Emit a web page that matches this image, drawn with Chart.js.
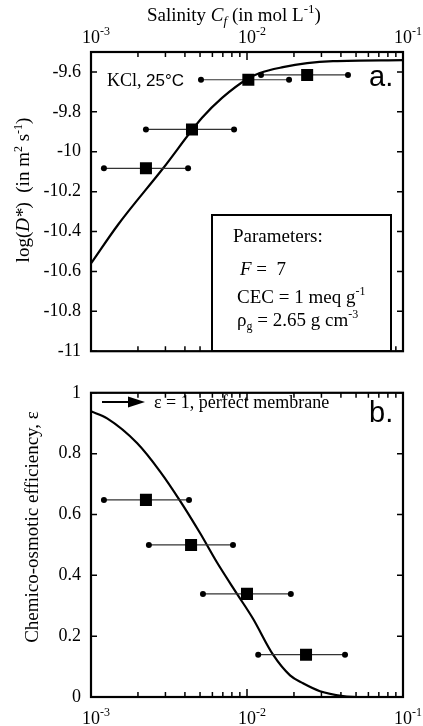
<!DOCTYPE html>
<html>
<head>
<meta charset="utf-8">
<script src="https://cdn.jsdelivr.net/npm/chart.js@4.4.1/dist/chart.umd.min.js"></script>
<style>
  html, body { margin: 0; padding: 0; background: #fff; }
  #wrap { position: relative; width: 423px; height: 726px; overflow: hidden; }
  canvas { position: absolute; left: 0; }
</style>
</head>
<body>
<div id="wrap">
  <canvas id="chartA" width="423" height="372" style="top:0"></canvas>
  <canvas id="chartB" width="423" height="354" style="top:372px"></canvas>
</div>
<script>
// ---- data ----
// panel a: log(D*) vs salinity
const curveA_c = [1.0e-3, 1.49e-3, 2.90e-3, 5.15e-3, 6.92e-3, 1.01e-2, 1.21e-2, 1.70e-2, 2.43e-2, 3.56e-2, 1.0e-1];
const curveA_v = [-10.56, -10.366, -10.083, -9.83, -9.73, -9.634, -9.605, -9.576, -9.556, -9.546, -9.541];
const measA_c = [2.25e-3, 4.44e-3, 1.02e-2, 2.43e-2];
const measA_v = [-10.083, -9.888, -9.639, -9.615];
const measA_lo = [1.21e-3, 2.25e-3, 5.07e-3, 1.23e-2];
const measA_hi = [4.19e-3, 8.26e-3, 1.86e-2, 4.44e-2];

// panel b: chemico-osmotic efficiency vs salinity
const curveB_c = [1.0e-3, 1.268e-3, 1.972e-3, 2.767e-3, 3.724e-3, 5.0e-3, 6.427e-3, 8.63e-3, 1.091e-2, 1.469e-2, 1.888e-2, 2.286e-2, 2.938e-2, 4.121e-2, 5.07e-2];
const curveB_v = [0.939, 0.916, 0.835, 0.742, 0.645, 0.539, 0.442, 0.339, 0.258, 0.139, 0.071, 0.045, 0.019, 0.003, 0.0];
const measB_c = [2.25e-3, 4.38e-3, 1.0e-2, 2.39e-2];
const measB_v = [0.648, 0.50, 0.339, 0.139];
const measB_lo = [1.21e-3, 2.35e-3, 5.22e-3, 1.18e-2];
const measB_hi = [4.25e-3, 8.13e-3, 1.91e-2, 4.25e-2];

// axes
const xMajor = [1e-3, 1e-2, 1e-1];
const xMajorExp = ['-3', '-2', '-1'];
const xMinorMult = [2, 3, 4, 5, 6, 7, 8, 9];
const yTicksA = [-11, -10.8, -10.6, -10.4, -10.2, -10, -9.8, -9.6];
const yTicksB = [0, 0.2, 0.4, 0.6, 0.8, 1];

const SERIF = '"Liberation Serif", "Times New Roman", serif';
const SANS = '"Liberation Sans", Arial, sans-serif';

function pts(xs, ys) { return xs.map((x, i) => ({ x: x, y: ys[i] })); }

function buildDatasets(cs, vs, mc, mv, lo, hi) {
    const ds = [{
        data: pts(cs, vs), showLine: true, borderColor: '#000', borderWidth: 2.2,
        pointRadius: 0, cubicInterpolationMode: 'monotone', order: 3
    }];
    mc.forEach((c, i) => {
        ds.push({
            data: [{ x: lo[i], y: mv[i] }, { x: hi[i], y: mv[i] }], showLine: true,
            borderColor: '#333', borderWidth: 1.2, pointRadius: 3,
            pointBackgroundColor: '#000', pointBorderWidth: 0, order: 2
        });
    });
    ds.push({
        data: pts(mc, mv), pointStyle: 'rect', pointRadius: 8.5,
        pointBackgroundColor: '#000', pointBorderWidth: 0, order: 1
    });
    return ds;
}

// draws pieces of text one after another, each with its own font and vertical shift
function rich(ctx, x, y, parts, align) {
    let w = 0;
    parts.forEach(p => { ctx.font = p[1]; w += ctx.measureText(p[0]).width; });
    let cx = align === 'center' ? x - w / 2 : x;
    parts.forEach(p => {
        ctx.font = p[1];
        ctx.fillText(p[0], cx, y + (p[2] || 0));
        cx += ctx.measureText(p[0]).width;
    });
}

function drawFrame(chart, yTicks) {
    const { ctx, chartArea: { left, right, top, bottom }, scales: { x, y } } = chart;
    ctx.save();
    ctx.strokeStyle = '#000';
    ctx.lineWidth = 1.5;
    ctx.beginPath();
    xMajor.forEach(m => {
        [m].concat(m < 0.1 ? xMinorMult.map(k => k * m) : []).forEach((v, j) => {
            const px = x.getPixelForValue(v);
            const len = j === 0 ? 8 : 5;
            ctx.moveTo(px, top); ctx.lineTo(px, top + len);
            ctx.moveTo(px, bottom); ctx.lineTo(px, bottom - len);
        });
    });
    yTicks.forEach(v => {
        const py = y.getPixelForValue(v);
        ctx.moveTo(left, py); ctx.lineTo(left + 6, py);
        ctx.moveTo(right, py); ctx.lineTo(right - 6, py);
    });
    ctx.stroke();
    ctx.lineWidth = 2.2;
    ctx.strokeRect(left, top, right - left, bottom - top);
    ctx.restore();
}

function drawXLabels(chart, baseline) {
    const { ctx, scales: { x } } = chart;
    ctx.save();
    ctx.fillStyle = '#000';
    ctx.textAlign = 'left';
    xMajor.forEach((v, i) => {
        const px = x.getPixelForValue(v);
        ctx.font = '18px ' + SERIF;
        const w = ctx.measureText('10').width;
        ctx.fillText('10', px - w / 2, baseline);
        ctx.font = '12px ' + SERIF;
        ctx.fillText(xMajorExp[i], px + w / 2, baseline - 8);
    });
    ctx.restore();
}

const panelA = {
    id: 'panelA',
    afterDraw(chart) {
        const ctx = chart.ctx;
        drawFrame(chart, yTicksA);
        drawXLabels(chart, 43);
        ctx.save();
        ctx.fillStyle = '#000';
        ctx.textAlign = 'left';
        // axis title on top
        rich(ctx, 147, 21, [
            ['Salinity ', '19px ' + SERIF], ['C', 'italic 19px ' + SERIF], ['f', 'italic 13px ' + SERIF, 4],
            [' (in mol L', '19px ' + SERIF], ['-1', '13px ' + SERIF, -8], [')', '19px ' + SERIF]
        ]);
        // y title
        ctx.save();
        ctx.translate(29, 190);
        ctx.rotate(-Math.PI / 2);
        rich(ctx, 0, 0, [
            ['log(', '19px ' + SERIF], ['D*', 'italic 19px ' + SERIF], [')  (in m', '19px ' + SERIF],
            ['2', '12px ' + SERIF, -7], [' s', '19px ' + SERIF], ['-1', '12px ' + SERIF, -7], [')', '19px ' + SERIF]
        ], 'center');
        ctx.restore();
        rich(ctx, 107, 86, [['KCl, ', '18px ' + SERIF], ['25°C', '17px ' + SANS]]);
        ctx.font = '29px ' + SANS;
        ctx.fillText('a.', 369, 86);
        // parameters box
        ctx.fillStyle = '#fff';
        ctx.fillRect(212, 215, 179, 136);
        ctx.lineWidth = 2;
        ctx.strokeStyle = '#000';
        ctx.strokeRect(212, 215, 179, 136);
        ctx.fillStyle = '#000';
        ctx.font = '19px ' + SERIF;
        ctx.fillText('Parameters:', 233, 242);
        rich(ctx, 240, 275, [['F', 'italic 19px ' + SERIF], [' =  7', '19px ' + SERIF]]);
        rich(ctx, 237, 303, [['CEC = 1 meq g', '19px ' + SERIF], ['-1', '12px ' + SERIF, -8]]);
        rich(ctx, 237, 326, [['ρ', '19px ' + SERIF], ['g', '12px ' + SERIF, 4], [' = 2.65 g cm', '19px ' + SERIF], ['-3', '12px ' + SERIF, -8]]);
        ctx.restore();
    }
};

const panelB = {
    id: 'panelB',
    afterDraw(chart) {
        const ctx = chart.ctx;
        drawFrame(chart, yTicksB);
        drawXLabels(chart, 352);
        ctx.save();
        ctx.fillStyle = '#000';
        ctx.strokeStyle = '#000';
        ctx.textAlign = 'left';
        ctx.save();
        ctx.translate(38, 155);
        ctx.rotate(-Math.PI / 2);
        ctx.font = '19px ' + SERIF;
        ctx.textAlign = 'center';
        ctx.fillText('Chemico-osmotic efficiency, ε', 0, 0);
        ctx.restore();
        // arrow + note
        ctx.lineWidth = 2;
        ctx.beginPath();
        ctx.moveTo(102, 30); ctx.lineTo(130, 30);
        ctx.stroke();
        ctx.beginPath();
        ctx.moveTo(128, 24.5); ctx.lineTo(145, 30); ctx.lineTo(128, 35.5); ctx.closePath();
        ctx.fill();
        ctx.font = '18px ' + SERIF;
        ctx.fillText('ε = 1, perfect membrane', 154, 36);
        ctx.font = '29px ' + SANS;
        ctx.fillText('b.', 369, 50);
        ctx.restore();
    }
};

function makeChart(id, datasets, yMin, yMax, yTicks, padding, plugin) {
    return new Chart(document.getElementById(id), {
        type: 'scatter',
        data: { datasets: datasets },
        options: {
            responsive: false,
            devicePixelRatio: 1,
            animation: false,
            layout: { padding: padding },
            plugins: { legend: { display: false }, tooltip: { enabled: false } },
            scales: {
                x: { type: 'logarithmic', min: 1e-3, max: 1e-1, display: false },
                y: {
                    type: 'linear', min: yMin, max: yMax,
                    afterBuildTicks: s => { s.ticks = yTicks.map(v => ({ value: v })); },
                    afterFit: s => { s.width = 91; },
                    grid: { display: false, drawTicks: false },
                    border: { display: false },
                    ticks: {
                        padding: 10, color: '#000',
                        font: { family: SERIF, size: 18 },
                        callback: v => String(+v.toFixed(1))
                    }
                }
            }
        },
        plugins: [plugin]
    });
}

makeChart('chartA', buildDatasets(curveA_c, curveA_v, measA_c, measA_v, measA_lo, measA_hi),
    -11, -9.5, yTicksA, { left: 0, top: 52, right: 20, bottom: 12 }, panelA);
makeChart('chartB', buildDatasets(curveB_c, curveB_v, measB_c, measB_v, measB_lo, measB_hi),
    0, 1, yTicksB, { left: 0, top: 15, right: 20, bottom: 29 }, panelB);
</script>
</body>
</html>
